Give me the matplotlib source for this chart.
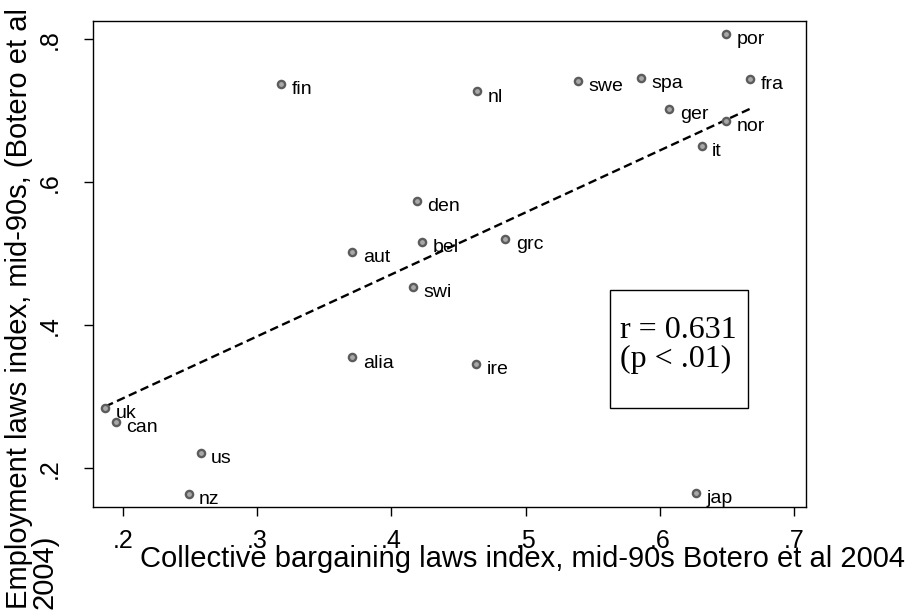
import matplotlib
matplotlib.use('Agg')
import matplotlib.pyplot as plt
from matplotlib.patches import Rectangle
import numpy as np

plt.rcParams['font.family'] = ['Liberation Sans', 'DejaVu Sans']

# Botero et al 2004 indices
countries = ['uk', 'can', 'us', 'nz', 'fin', 'nl', 'den', 'bel', 'grc', 'aut',
             'swi', 'alia', 'ire', 'swe', 'spa', 'ger', 'por', 'fra', 'nor', 'it', 'jap']
collective = [0.187, 0.195, 0.258, 0.249, 0.318, 0.464, 0.419, 0.423, 0.485, 0.371,
              0.416, 0.371, 0.463, 0.539, 0.586, 0.607, 0.649, 0.667, 0.649, 0.631, 0.627]
employment = [0.285, 0.265, 0.221, 0.164, 0.738, 0.727, 0.574, 0.516, 0.521, 0.502,
              0.454, 0.355, 0.346, 0.742, 0.746, 0.702, 0.808, 0.744, 0.686, 0.651, 0.166]

xticks = [0.2, 0.3, 0.4, 0.5, 0.6, 0.7]
xticklabels = ['.2', '.3', '.4', '.5', '.6', '.7']
yticks = [0.2, 0.4, 0.6, 0.8]
yticklabels = ['.2', '.4', '.6', '.8']

stat_text = ['r = 0.631', '(p < .01)']

x = np.array(collective)
y = np.array(employment)

fig = plt.figure(figsize=(9.12, 6.15), dpi=100)
ax = fig.add_axes([93/912, 1 - 507/615, (806.5 - 93)/912, (507 - 20.7)/615])

# linear fit over the data range
b, a = np.polyfit(x, y, 1)
xs = np.array([x.min(), x.max()])
ax.plot(xs, a + b*xs, color='black', lw=1.7, linestyle=(0, (3.6, 1.9)), zorder=2)

ax.plot(x, y, 'o', ms=5.2, mfc='#a8a8a8', mec='#5c5c5c', mew=1.7, zorder=3)
for name, xi, yi in zip(countries, x, y):
	ax.annotate(name, (xi, yi), xytext=(7.5, -4), textcoords='offset points',
		ha='left', va='center', fontsize=14, color='black', zorder=4)

ax.set_xlim(0.1779, 0.7091)
ax.set_ylim(0.1459, 0.826)
ax.set_xticks(xticks)
ax.set_xticklabels(xticklabels)
ax.set_yticks(yticks)
ax.set_yticklabels(yticklabels, rotation=90, va='center')
ax.tick_params(axis='both', direction='out', length=6.5, width=1, labelsize=18, color='black')
ax.tick_params(axis='x', pad=9)
ax.tick_params(axis='y', pad=16)
for sp in ax.spines.values():
	sp.set_linewidth(1.0)

# stats box
ax.add_patch(Rectangle((0.7246, 0.2036), 0.918 - 0.7246, 0.4462 - 0.2036, transform=ax.transAxes,
	fill=False, edgecolor='black', lw=1.0, zorder=5))
ax.text(0.7385, 1 - (338 - 20.7)/486.3, stat_text[0], transform=ax.transAxes, ha='left',
	va='baseline', fontsize=23, family='Liberation Serif')
ax.text(0.7385, 1 - (367 - 20.7)/486.3, stat_text[1], transform=ax.transAxes, ha='left',
	va='baseline', fontsize=23, family='Liberation Serif')

fig.text(523/912, 1 - 567/615, 'Collective bargaining laws index, mid-90s Botero et al 2004',
	ha='center', va='baseline', fontsize=21)
fig.text(5/912, 1 - 609/615, 'Employment laws index, mid-90s, (Botero et al\n2004)',
	rotation=90, ha='left', va='bottom', multialignment='left', fontsize=21, linespacing=0.88)

fig.savefig('out.png', dpi=100)
